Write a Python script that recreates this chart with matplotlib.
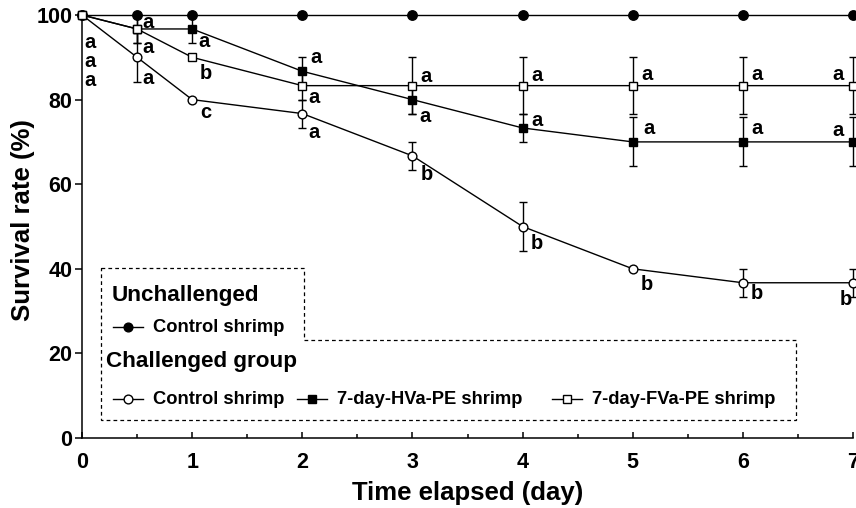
import matplotlib
matplotlib.use("Agg")
import matplotlib.pyplot as plt
from matplotlib.lines import Line2D
from matplotlib.patches import Polygon

plt.rcParams['font.family'] = ['Liberation Sans', 'DejaVu Sans']
plt.rcParams['font.weight'] = 'bold'

days = [0, 0.5, 1, 2, 3, 4, 5, 6, 7]
unch_ctrl = [100, 100, 100, 100, 100, 100, 100, 100, 100]
ctrl = [100, 90, 80, 76.7, 66.7, 50, 40, 36.7, 36.7]
ctrl_err = [0, 5.8, 0, 3.3, 3.3, 5.8, 0, 3.3, 3.3]
hva = [100, 96.7, 96.7, 86.7, 80, 73.3, 70, 70, 70]
hva_err = [0, 3.3, 3.3, 3.3, 3.3, 3.3, 5.8, 5.8, 5.8]
fva = [100, 96.7, 90, 83.3, 83.3, 83.3, 83.3, 83.3, 83.3]
fva_err = [0, 3.3, 0, 3.3, 6.7, 6.7, 6.7, 6.7, 6.7]

ctrl_letters = ['a', 'a', 'c', 'a', 'b', 'b', 'b', 'b', 'b']
hva_letters = ['a', 'a', 'a', 'a', 'a', 'a', 'a', 'a', 'a']
fva_letters = ['a', 'a', 'b', 'a', 'a', 'a', 'a', 'a', 'a']

# label offsets in pixels (dx, dy up)
ctrl_off = [(8, -65), (11, -21), (14, -13), (12, -19), (14, -19), (14, -17), (14, -16), (14, -11), (-7, -17)]
hva_off = [(8, -46), (11, -19), (12, -13), (14, 14), (13, -17), (14, 7), (16, 13), (14, 13), (-15, 11)]
fva_off = [(8, -27), (11, 6), (14, -16), (12, -12), (14, 9), (14, 10), (14, 11), (14, 11), (-15, 11)]

W, H = 856, 508
fig = plt.figure(figsize=(W / 100, H / 100), dpi=100)
ax = fig.add_axes([82 / W, 1 - 438 / H, (853 - 82) / W, (438 - 15) / H])

lw = 1.0
ms = 6.3
common = dict(color='black', lw=lw, capsize=2.6, elinewidth=lw, capthick=lw, clip_on=False)

ax.errorbar(days, ctrl, yerr=ctrl_err, marker='o', mfc='white', mec='black', ms=ms,
            mew=lw, zorder=3, **common)
ax.errorbar(days, hva, yerr=hva_err, marker='s', mfc='black', mec='black', ms=ms,
            mew=lw, zorder=4, **common)
ax.errorbar(days, fva, yerr=fva_err, marker='s', mfc='white', mec='black', ms=ms,
            mew=lw, zorder=6, **common)
ax.plot(days, unch_ctrl, marker='o', color='black', mfc='black', ms=6.8, lw=lw,
        clip_on=False, zorder=5)

for vals, letters, offs in ((ctrl, ctrl_letters, ctrl_off),
                            (hva, hva_letters, hva_off),
                            (fva, fva_letters, fva_off)):
    for x, y, l, (dx, dy) in zip(days, vals, letters, offs):
        ax.annotate(l, (x, y), xytext=(dx, dy), textcoords='offset pixels',
                    ha='center', va='center', fontsize=14.5, fontweight='bold',
                    annotation_clip=False, zorder=7)

ax.set_xlim(0, 7)
ax.set_ylim(0, 100)
ax.set_xticks(range(0, 8))
ax.set_xticks([0.5, 1.5, 2.5, 3.5, 4.5, 5.5, 6.5], minor=True)
ax.set_yticks(range(0, 101, 20))
for s in ('top', 'right'):
    ax.spines[s].set_visible(False)
for s in ('left', 'bottom'):
    ax.spines[s].set_linewidth(1.1)
ax.tick_params(axis='x', which='major', direction='in', length=4, width=1.1,
               labelsize=15.5, pad=10)
ax.tick_params(axis='x', which='minor', direction='in', length=3, width=1.1)
ax.tick_params(axis='y', which='major', direction='out', length=5, width=1.1,
               labelsize=15.5, pad=2)
for t in ax.get_xticklabels() + ax.get_yticklabels():
    t.set_fontweight('bold')

ax.set_xlabel('Time elapsed (day)', fontsize=18.5, fontweight='bold', labelpad=6)
ax.set_ylabel('Survival rate (%)', fontsize=18.5, fontweight='bold', labelpad=4)
ax.yaxis.set_label_coords(-0.061, 0.515)

# legend box (L-shaped dashed outline) in figure pixel coordinates
def fp(x, y):
    return (x / W, 1 - y / H)

poly_px = [(101, 268), (304, 268), (304, 340), (796, 340), (796, 420), (101, 420)]
fig.patches.append(Polygon([fp(*p) for p in poly_px], closed=True, fill=False,
                           ls=(0, (3, 2.5)), lw=0.9, ec='black',
                           transform=fig.transFigure))

fig.text(*fp(112, 296), 'Unchallenged', fontsize=16.2, fontweight='bold', va='center', ha='left')
fig.text(*fp(106, 362), 'Challenged group', fontsize=16.2, fontweight='bold', va='center', ha='left')

def legend_entry(x0, y, marker, mfc, label):
    xa, ya = fp(x0, y)
    xb, _ = fp(x0 + 30, y)
    xm, _ = fp(x0 + 15, y)
    fig.add_artist(Line2D([xa, xb], [ya, ya], color='black', lw=lw, transform=fig.transFigure))
    fig.add_artist(Line2D([xm], [ya], marker=marker, mfc=mfc, mec='black', ms=ms, mew=lw,
                          color='black', transform=fig.transFigure))
    fig.text(*fp(x0 + 40, y), label, fontsize=13.2, fontweight='bold', va='center', ha='left')

legend_entry(113, 327, 'o', 'black', 'Control shrimp')
legend_entry(113, 399, 'o', 'white', 'Control shrimp')
legend_entry(297, 399, 's', 'black', '7-day-HVa-PE shrimp')
legend_entry(552, 399, 's', 'white', '7-day-FVa-PE shrimp')

fig.savefig('out.png', dpi=100)
